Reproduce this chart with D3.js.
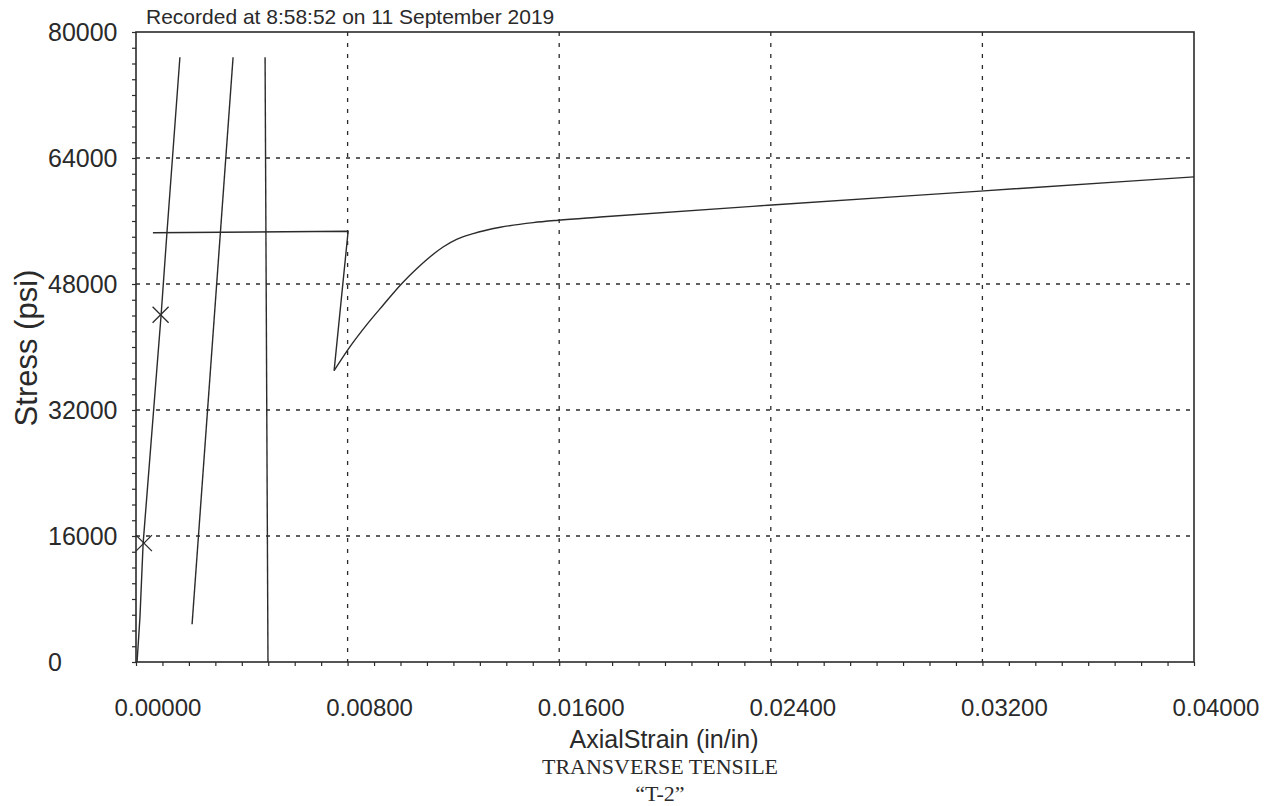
<!DOCTYPE html>
<html>
<head>
<meta charset="utf-8">
<script src="https://cdn.jsdelivr.net/npm/d3@7"></script>
<style>
  html, body { margin: 0; padding: 0; background: #fff; }
  svg { display: block; }
  text { fill: #2a2a2a; }
</style>
</head>
<body>
<svg id="chart" width="1280" height="806"></svg>
<script>
// axis ticks
const xTicks = [0, 0.008, 0.016, 0.024, 0.032, 0.04]
const yTicks = [0, 16000, 32000, 48000, 64000, 80000]

// first loading line
const strainA = [0.00004, 0.00015, 0.00027, 0.00095, 0.00117, 0.00166]
const stressA = [0, 5700, 15100, 44100, 54500, 76800]
// second line
const strainB = [0.00212, 0.00367]
const stressB = [4800, 76800]
// vertical line
const strainC = [0.00499, 0.00488]
const stressC = [0, 76800]
// plateau and drop
const strainYield = [0.00064, 0.00802, 0.00749]
const stressYield = [54500, 54700, 37000]
// hardening curve
const strainHard = [0.00749, 0.00802, 0.00874, 0.00934, 0.01006, 0.01063, 0.01161,
  0.01214, 0.01275, 0.01377, 0.01502, 0.01596, 0.01755, 0.02390, 0.03192, 0.04000]
const stressHard = [37000, 39700, 42900, 45300, 48100, 50000, 52700,
  53700, 54400, 55200, 55800, 56100, 56500, 58000, 59800, 61600]
// X markers
const markStrain = [0.0003, 0.00093]
const markStress = [15100, 44100]

const svg = d3.select('#chart')
const plotLeft = 136, plotRight = 1194, plotTop = 32, plotBottom = 662
const ink = '#2b2b2b'

const x = d3.scaleLinear().domain([0, 0.04]).range([plotLeft, plotRight])
const y = d3.scaleLinear().domain([0, 80000]).range([plotBottom, plotTop])

// 网格线
const grid = svg.append('g')
grid.selectAll('.vg')
  .data(xTicks.slice(1, -1))
  .enter()
  .append('line')
  .attr('x1', d => x(d)).attr('x2', d => x(d))
  .attr('y1', plotTop).attr('y2', plotBottom)
  .style('stroke', ink)
  .style('stroke-width', 1.3)
  .style('stroke-dasharray', '4,7')
grid.selectAll('.hg')
  .data(yTicks.slice(1, -1))
  .enter()
  .append('line')
  .attr('x1', plotLeft).attr('x2', plotRight)
  .attr('y1', d => y(d)).attr('y2', d => y(d))
  .style('stroke', ink)
  .style('stroke-width', 1.3)
  .style('stroke-dasharray', '4,6')

// 坐标轴 (minor ticks outward)
const xAxis = d3.axisBottom(x).ticks(50).tickSize(4).tickFormat('')
const yAxis = d3.axisLeft(y).ticks(50).tickSize(4).tickFormat('')
svg.append('g').attr('transform', `translate(0,${plotBottom})`).call(xAxis)
  .call(g => g.select('.domain').remove())
  .selectAll('line').style('stroke', ink).style('stroke-width', 1.2)
svg.append('g').attr('transform', `translate(${plotLeft},0)`).call(yAxis)
  .call(g => g.select('.domain').remove())
  .selectAll('line').style('stroke', ink).style('stroke-width', 1.2)

// 边框
svg.append('rect')
  .attr('x', plotLeft).attr('y', plotTop)
  .attr('width', plotRight - plotLeft).attr('height', plotBottom - plotTop)
  .style('fill', 'none')
  .style('stroke', ink)
  .style('stroke-width', 1.6)

// 刻度标签
svg.selectAll('.ylab')
  .data(yTicks)
  .enter()
  .append('text')
  .attr('x', 48)
  .attr('y', d => y(d))
  .attr('dominant-baseline', 'central')
  .style('font-family', 'Liberation Sans, Arial, sans-serif')
  .style('font-size', '25px')
  .text(d => d)

svg.selectAll('.xlab')
  .data(xTicks)
  .enter()
  .append('text')
  .attr('x', d => x(d) + 22)
  .attr('y', 716)
  .attr('text-anchor', 'middle')
  .style('font-family', 'Liberation Sans, Arial, sans-serif')
  .style('font-size', '24px')
  .text(d => d3.format('.5f')(d))

// 曲线
const line = d3.line().x(d => x(d[0])).y(d => y(d[1]))
const series = [[strainA, stressA], [strainB, stressB], [strainC, stressC], [strainYield, stressYield]]
svg.selectAll('.curve')
  .data(series)
  .enter()
  .append('path')
  .attr('d', s => line(d3.zip(s[0], s[1])))
  .style('fill', 'none')
  .style('stroke', ink)
  .style('stroke-width', 1.4)
  .style('stroke-linejoin', 'round')

const smooth = d3.line().x(d => x(d[0])).y(d => y(d[1])).curve(d3.curveMonotoneX)
svg.append('path')
  .attr('d', smooth(d3.zip(strainHard, stressHard)))
  .style('fill', 'none')
  .style('stroke', ink)
  .style('stroke-width', 1.4)

// X 标记
svg.selectAll('.mark')
  .data(d3.zip(markStrain, markStress))
  .enter()
  .append('path')
  .attr('transform', d => `translate(${x(d[0])},${y(d[1])})`)
  .attr('d', 'M-8,-8L8,8M-8,8L8,-8')
  .style('stroke', ink)
  .style('stroke-width', 1.3)

// 标题与轴标题
svg.append('text')
  .attr('x', 146).attr('y', 24)
  .style('font-family', 'Liberation Sans, Arial, sans-serif')
  .style('font-size', '21px')
  .text('Recorded at 8:58:52 on 11 September 2019')

svg.append('text')
  .attr('transform', 'translate(37,348) rotate(-90)')
  .attr('text-anchor', 'middle')
  .style('font-family', 'Liberation Sans, Arial, sans-serif')
  .style('font-size', '31px')
  .text('Stress (psi)')

svg.append('text')
  .attr('x', 664).attr('y', 748)
  .attr('text-anchor', 'middle')
  .style('font-family', 'Liberation Sans, Arial, sans-serif')
  .style('font-size', '25px')
  .text('AxialStrain (in/in)')

svg.append('text')
  .attr('x', 660).attr('y', 774)
  .attr('text-anchor', 'middle')
  .style('font-family', 'Liberation Serif, Times New Roman, serif')
  .style('font-size', '22px')
  .text('TRANSVERSE TENSILE')

svg.append('text')
  .attr('x', 660).attr('y', 801)
  .attr('text-anchor', 'middle')
  .style('font-family', 'Liberation Serif, Times New Roman, serif')
  .style('font-size', '22px')
  .text('“T-2”')
</script>
</body>
</html>
